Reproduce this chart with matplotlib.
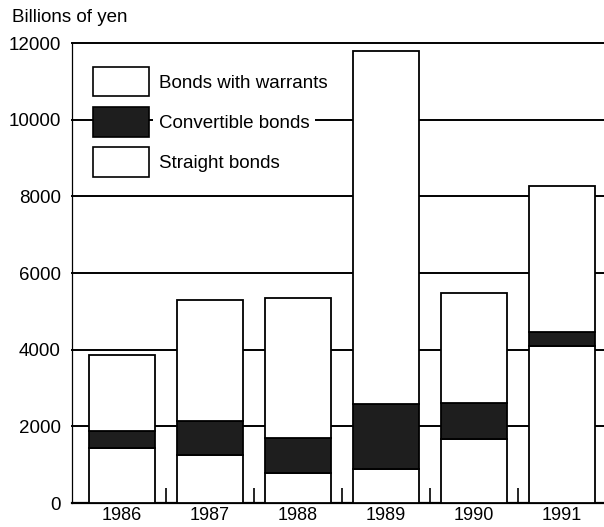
import matplotlib
matplotlib.use("Agg")
import matplotlib.pyplot as plt
import numpy as np
from matplotlib.patches import Patch

years = ["1986", "1987", "1988", "1989", "1990", "1991"]
straight = [1440, 1240, 790, 890, 1670, 4090]
convertible = [440, 905, 900, 1700, 950, 370]
warrants = [1970, 3155, 3660, 9210, 2860, 3820]
yticks = [0, 2000, 4000, 6000, 8000, 10000, 12000]

plt.rcParams["font.family"] = ["Liberation Sans", "DejaVu Sans"]

fig = plt.figure(figsize=(6.04, 5.27), dpi=100)
ax = fig.add_axes([72 / 604, 1 - 503 / 527, 532 / 604, 460 / 527])

x = np.arange(len(years))
w = 0.75
dark = "#1e1e1e"

# gridlines behind the bars
for v in yticks[1:]:
    ax.axhline(v, color="black", lw=1.4, zorder=1, clip_on=False)

bot = np.zeros(len(years))
ax.bar(x, straight, w, bottom=bot, facecolor="white", edgecolor="black", lw=1.3, zorder=3)
bot += straight
ax.bar(x, convertible, w, bottom=bot, facecolor=dark, edgecolor="black", lw=1.3, zorder=3)
bot += convertible
ax.bar(x, warrants, w, bottom=bot, facecolor="white", edgecolor="black", lw=1.3, zorder=3)

ax.set_xlim(-0.568, 5.477)
ax.set_ylim(0, 12000)
ax.set_yticks(yticks)
ax.set_yticklabels([str(v) for v in yticks], fontsize=13.5)
ax.set_xticks(x)
ax.set_xticklabels(years, fontsize=13)
ax.tick_params(axis="both", length=0)
ax.tick_params(axis="y", pad=8)
ax.tick_params(axis="x", pad=3)
ax.set_xticks(x[:-1] + 0.5, minor=True)
ax.tick_params(axis="x", which="minor", direction="in", length=11, width=1.2)

for s in ["top", "right"]:
    ax.spines[s].set_visible(False)
ax.spines["left"].set_linewidth(0.9)
ax.spines["bottom"].set_linewidth(1.6)

handles = [
    Patch(facecolor="white", edgecolor="black", lw=1.2, label="Bonds with warrants"),
    Patch(facecolor=dark, edgecolor="black", lw=1.2, label="Convertible bonds"),
    Patch(facecolor="white", edgecolor="black", lw=1.2, label="Straight bonds"),
]
leg = ax.legend(handles=handles, loc="upper left", bbox_to_anchor=(0.0395, 0.948),
                frameon=False, fontsize=13.5, borderpad=0, borderaxespad=0,
                handlelength=3.0, handleheight=2.05, handletextpad=0.5,
                labelspacing=0.56)
leg.set_zorder(5)
for t in leg.get_texts():
    t.set_bbox(dict(facecolor="white", edgecolor="none", pad=4))

fig.text(12 / 604, 1 - 17 / 527, "Billions of yen", fontsize=13.5, va="center", ha="left")

fig.savefig("out.png", dpi=100)
